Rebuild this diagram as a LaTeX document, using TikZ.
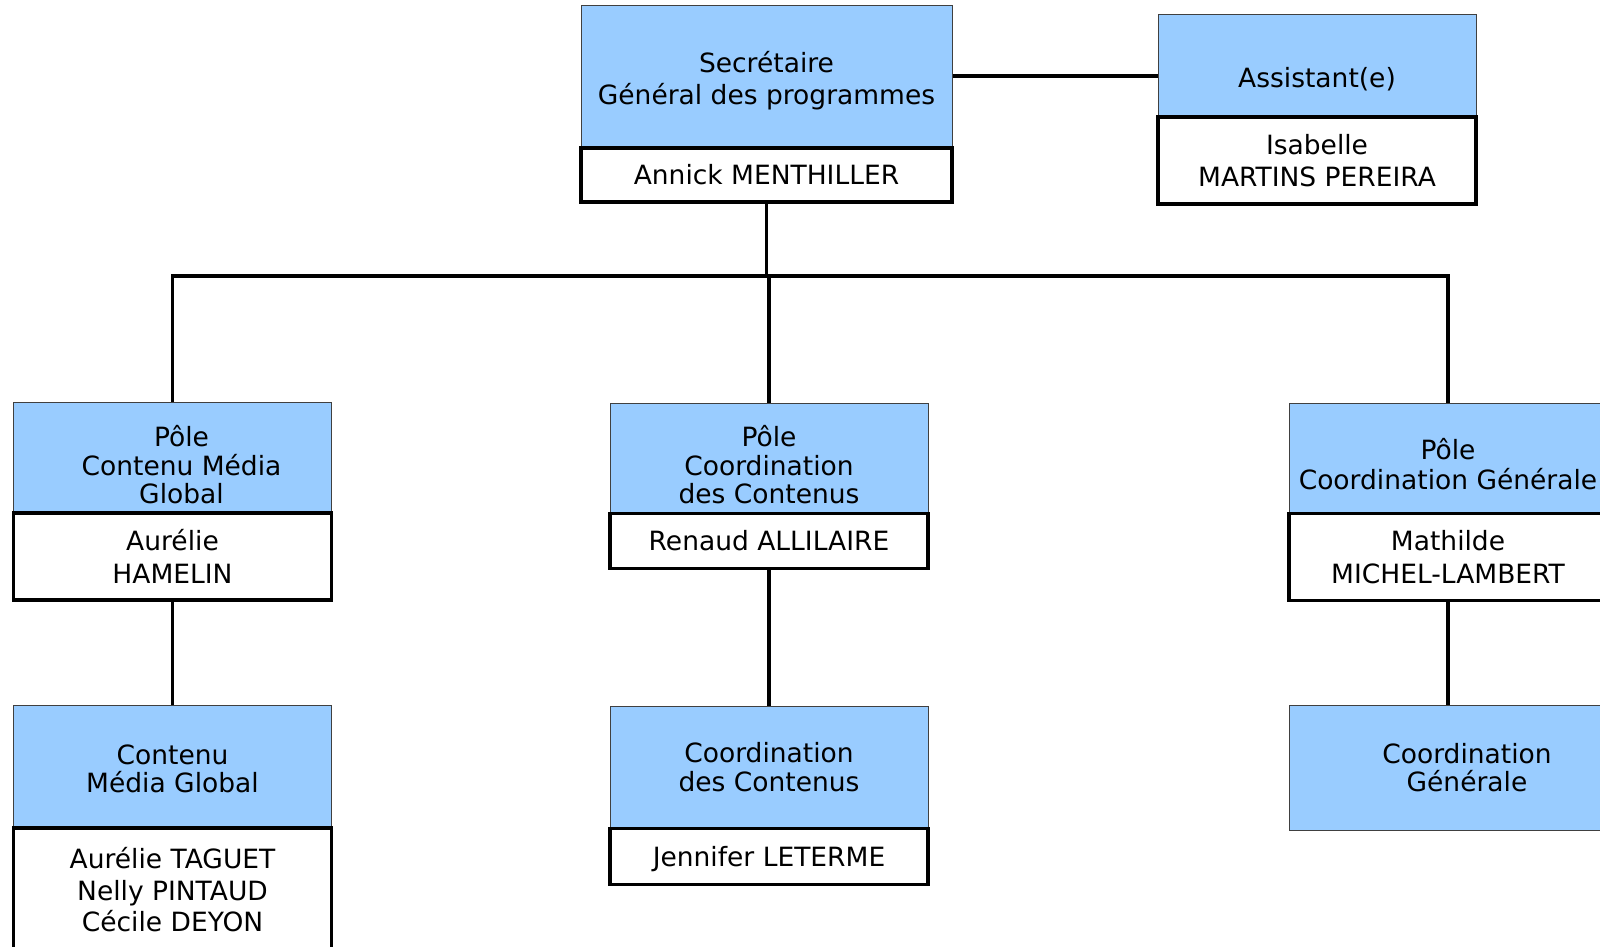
\documentclass[tikz,border=0pt]{standalone}
\usepackage{fontspec}
\setmainfont{DejaVu Sans}
\definecolor{poleblue}{HTML}{99CCFF}
\newcommand{\topgap}[1]{\rule{0pt}{#1}}
\tikzset{
  titlebox/.style={rectangle, fill=poleblue, draw=black!75, line width=1pt, inner sep=0pt,
    minimum width=318pt, align=center, font=\fontsize{26.5}{28.5}\selectfont},
  namebox/.style={rectangle, fill=white, draw=black, line width=3.5pt, inner sep=0pt,
    minimum width=318pt, align=center, font=\fontsize{26.5}{31.5}\selectfont},
  link/.style={line width=3.5pt}
}
\begin{document}
\begin{tikzpicture}[x=1pt, y=-1pt]
    \useasboundingbox (0,0) rectangle (1600,946);
    % top level
    \node[titlebox, minimum width=371pt, minimum height=142pt, font=\fontsize{26.5}{32}\selectfont] (sg) at (766.5,76)
      {\topgap{30pt}Secrétaire\\Général des programmes};
    \node[namebox, minimum width=371pt, minimum height=54pt] (sgname) at (766.5,175) {Annick MENTHILLER};
    \node[titlebox, minimum height=102pt] (asst) at (1317,65) {\topgap{48pt}Assistant(e)};
    \node[namebox, minimum height=87pt] (asstname) at (1317,160.5) {Isabelle\\MARTINS PEREIRA};
    % poles
    \node[titlebox, minimum height=110pt] (pcmg) at (172.5,457)
      {\hspace*{18pt}\topgap{37pt}Pôle\\\hspace*{18pt}Contenu Média\\\hspace*{18pt}Global};
    \node[namebox, minimum height=87pt, font=\fontsize{26.5}{32.5}\selectfont] (pcmgname) at (172.5,556.5) {Aurélie\\HAMELIN};
    \node[titlebox, minimum height=110pt] (pcc) at (769,458) {\topgap{35pt}Pôle\\Coordination\\des Contenus};
    \node[namebox, minimum height=55pt] (pccname) at (769,541) {Renaud ALLILAIRE};
    \node[titlebox, minimum height=110pt, font=\fontsize{26.5}{29.5}\selectfont] (pcg) at (1448,458)
      {\topgap{33pt}Pôle\\Coordination Générale};
    \node[namebox, minimum height=87pt, font=\fontsize{26.5}{32.5}\selectfont] (pcgname) at (1448,557) {Mathilde\\MICHEL-LAMBERT};
    % services
    \node[titlebox, minimum height=123pt] (cmg) at (172.5,766.5) {\topgap{24pt}Contenu\\Média Global};
    \node[namebox, minimum height=124pt] (cmgname) at (172.5,890) {Aurélie TAGUET\\Nelly PINTAUD\\Cécile DEYON};
    \node[titlebox, minimum height=122pt] (cc) at (769,767) {Coordination\\des Contenus};
    \node[namebox, minimum height=56pt, text depth=0pt] (ccname) at (769,856.5) {Jennifer LETERME};
    \node[titlebox, minimum width=356pt, minimum height=125pt] (cg) at (1467,767.5) {Coordination\\Générale};
    % links
    \coordinate (bus) at (766.5,276);
    \draw[link] (sg.east) -- (sg.east -| asst.west);
    \draw[link] (sgname.south) -- (bus);
    \draw[link] (pcmg.north) |- (bus) -| (pcg.north);
    \draw[link] (pcc.north) -- (pcc.north |- bus);
    \draw[link] (pcmgname.south) -- (cmg.north);
    \draw[link] (pccname.south) -- (cc.north);
    \draw[link] (pcgname.south) -- (pcgname.south |- cg.north);
\end{tikzpicture}
\end{document}
